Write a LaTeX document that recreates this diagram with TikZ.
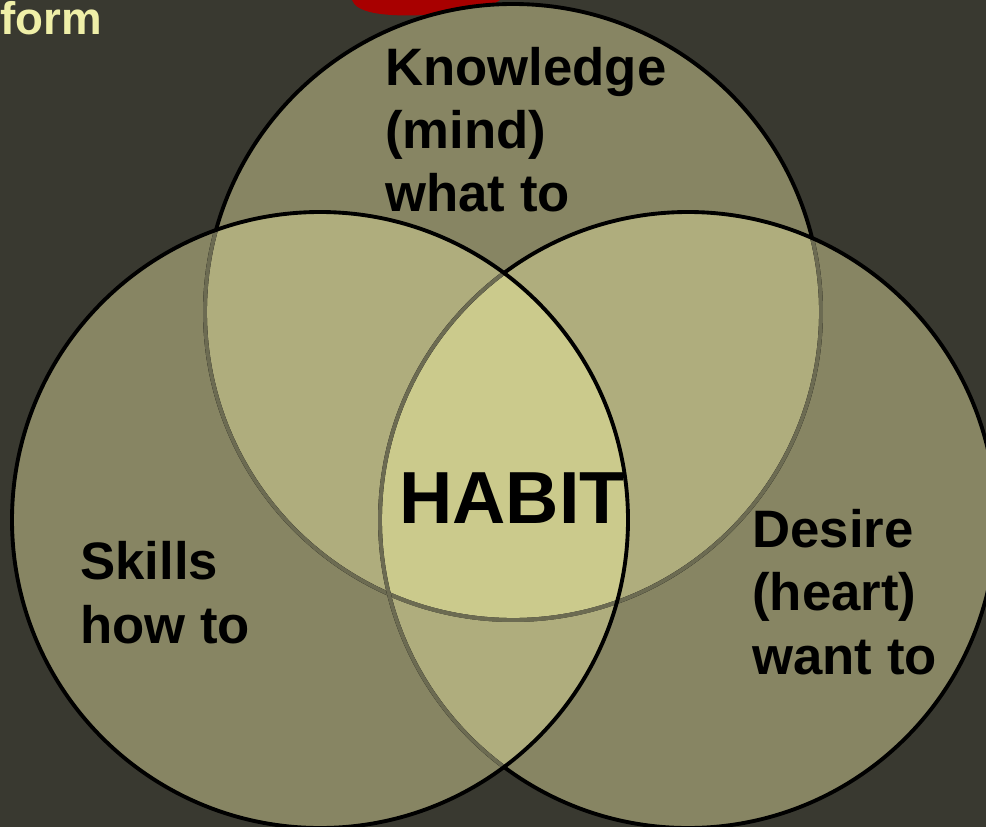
\documentclass[tikz,border=0pt]{standalone}
\usepackage{fontspec}
\setmainfont{Liberation Sans}
\usetikzlibrary{calc}
\definecolor{bgdark}{HTML}{393930}
\definecolor{onefill}{HTML}{878563}
\definecolor{twofill}{HTML}{AFAD7D}
\definecolor{threefill}{HTML}{CBCA8C}
\definecolor{rimgray}{HTML}{6C6B52}
\definecolor{titleyel}{HTML}{EFEFA8}
\definecolor{ribbon}{HTML}{A80000}
\tikzstyle{lbl}=[inner sep=0pt,align=left,anchor=base west,font=\fontsize{30}{36}\selectfont\bfseries]
\tikzstyle{rim}=[line width=2.2pt]

\begin{document}
\begin{tikzpicture}[x=0.02cm,y=-0.02cm]
     \useasboundingbox (0,0) rectangle (986,827);
     \fill[bgdark] (0,0) rectangle (986,827);
     \clip (0,0) rectangle (986,827);
     \coordinate (kc) at (513,312); % knowledge
     \coordinate (lc) at (320,520); % skills
     \coordinate (rc) at (688,520); % desire
     % red shape behind the top circle
     \fill[ribbon] (352,0) .. controls (356,12) and (380,17) .. (425,15) .. controls (460,14) and (485,10) .. (500,0) -- cycle;
     % fills
     \fill[onefill] (kc) circle (308);
     \fill[onefill] (lc) circle (308);
     \fill[onefill] (rc) circle (308);
     \begin{scope}
       \clip (kc) circle (308);
       \fill[twofill] (lc) circle (308);
       \fill[twofill] (rc) circle (308);
     \end{scope}
     \begin{scope}
       \clip (lc) circle (308);
       \fill[twofill] (rc) circle (308);
     \end{scope}
     \begin{scope}
       \clip (kc) circle (308);
       \clip (lc) circle (308);
       \fill[threefill] (rc) circle (308);
     \end{scope}
     % outlines
     \draw[rim] (kc) circle (308);
     \begin{scope}
       \clip (rc) circle (308);
       \draw[rim,rimgray] (kc) circle (308);
     \end{scope}
     \begin{scope}
       \clip (lc) circle (308);
       \draw[rim,rimgray] (kc) circle (308);
     \end{scope}
     \draw[rim] (rc) circle (308);
     \begin{scope}
       \clip (lc) circle (308);
       \draw[rim,rimgray] (rc) circle (308);
     \end{scope}
     \draw[rim] (lc) circle (308);
     % texts (anchored at the last line)
     \node[anchor=base west,inner sep=0pt,text=titleyel,font=\fontsize{26}{30}\selectfont\bfseries] (form) at (0,35) {form};
     \node[lbl] (know) at (385,212) {Knowledge\\(mind)\\what to};
     \node[lbl] (skill) at (80,643) {Skills\\how to};
     \node[lbl] (desire) at (752,674) {Desire\\(heart)\\want to};
     \node[anchor=base,inner sep=0pt,font=\fontsize{42}{50}\selectfont\bfseries] (habit) at (512,523) {HABIT};
\end{tikzpicture}
\end{document}
